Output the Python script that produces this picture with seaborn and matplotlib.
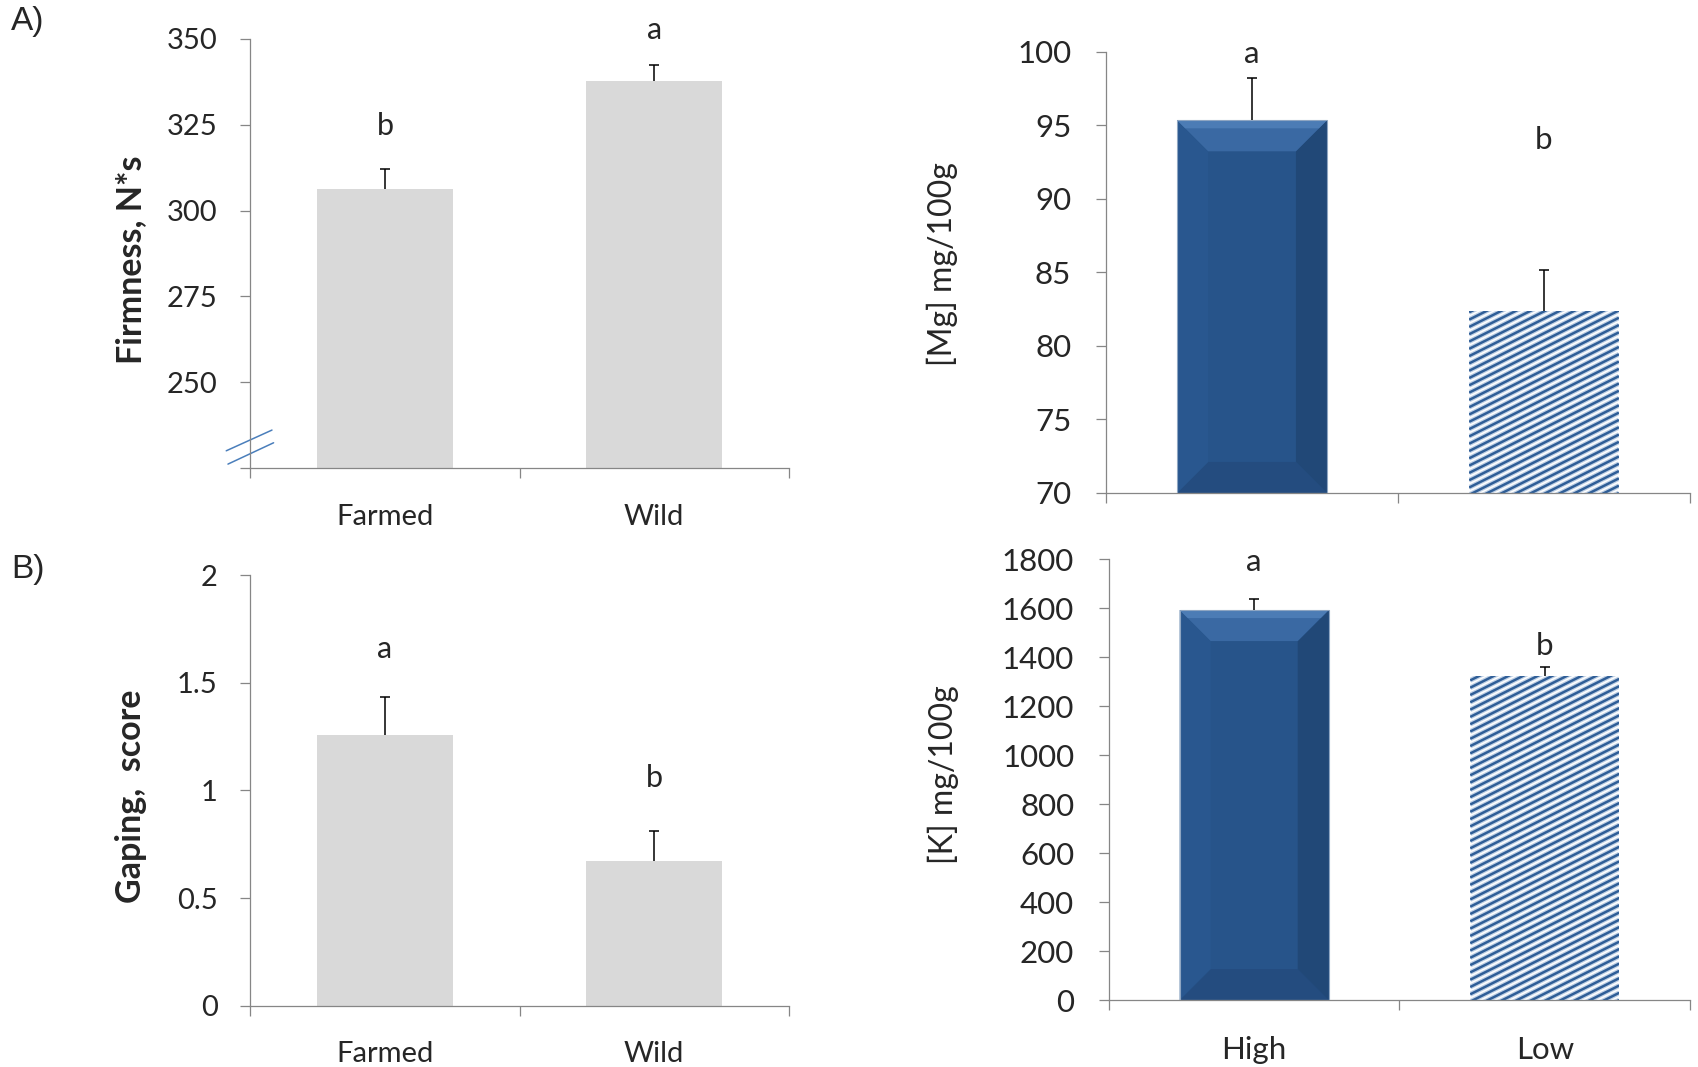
import numpy as np
import matplotlib
matplotlib.use('Agg')
import matplotlib.pyplot as plt
import seaborn as sns
from matplotlib.patches import Polygon
from matplotlib.collections import LineCollection
from matplotlib.transforms import IdentityTransform, Bbox

sns.set_theme(style='ticks')
plt.rcParams['font.family'] = ['Lato', 'DejaVu Sans']

# ---- data ----
species = ['Farmed', 'Wild']
firmness = [306.3, 337.7]
firmness_se = [5.7, 4.8]
firmness_letters = ['b', 'a']
firmness_letter_y = [324.5, 352.5]

gaping = [1.26, 0.67]
gaping_se = [0.175, 0.14]
gaping_letters = ['a', 'b']
gaping_letter_y = [1.66, 1.06]

feed = ['High', 'Low']
mg = [95.35, 82.35]
mg_se = [2.9, 2.85]
mg_letters = ['a', 'b']
mg_letter_y = [99.85, 94.0]

k = [1592, 1324]
k_se = [44, 37]
k_letters = ['a', 'b']
k_letter_y = [1789, 1445]

AXIS_GREY = '#868686'
BAR_GREY = '#d9d9d9'
BLUE = '#27548a'


def style_axes(ax, size, ypad):
    sns.despine(ax=ax)
    for s in ['left', 'bottom']:
        ax.spines[s].set_color(AXIS_GREY)
        ax.spines[s].set_linewidth(0.9)
    ax.set_xlim(-0.5, 1.5)
    ax.set_xticks([-0.5, 0.5, 1.5], minor=True)
    ax.tick_params(axis='x', which='major', length=0, pad=25.5, labelsize=size)
    ax.tick_params(axis='x', which='minor', length=7.5, width=0.9,
                   color=AXIS_GREY, direction='out')
    ax.tick_params(axis='y', length=7.5, width=0.9, color=AXIS_GREY,
                   direction='out', pad=ypad, labelsize=size)
    ax.set_xlabel('')


def add_errors(ax, vals, se):
    # one-sided (upper) error bars with a cap only at the top
    tops = np.array(vals) + np.array(se)
    ax.errorbar([0, 1], vals, yerr=[np.zeros(len(se)), se], fmt='none',
                ecolor='black', elinewidth=1.1, capsize=0, zorder=5)
    ax.plot([0, 1], tops, ls='none', marker='_', ms=7.5, mew=1.1,
            color='black', zorder=5)


def add_letters(ax, letters, ys, size):
    for i, (t, y) in enumerate(zip(letters, ys)):
        ax.text(i, y, t, ha='center', va='center', fontsize=size,
                clip_on=False)


def bar_box(ax, patch):
    bb = patch.get_window_extent()
    ab = ax.get_window_extent()
    return bb.x0, bb.x1, max(bb.y0, ab.y0), bb.y1


def bevel(ax, patch, d=31):
    x0, x1, y0, y1 = bar_box(ax, patch)
    faces = [
        ([(x0, y0), (x1, y0), (x1 - d, y0 + d), (x0 + d, y0 + d)], '#244c7f'),
        ([(x0, y0), (x0, y1), (x0 + d, y1 - d), (x0 + d, y0 + d)], '#29578f'),
        ([(x1, y0), (x1, y1), (x1 - d, y1 - d), (x1 - d, y0 + d)], '#214877'),
        ([(x0, y1), (x1, y1), (x1 - d, y1 - d), (x0 + d, y1 - d)], '#3a69a3'),
    ]
    for pts, c in faces:
        ax.add_patch(Polygon(pts, closed=True, facecolor=c, edgecolor='none',
                             transform=IdentityTransform(), zorder=2.5))
    # lighter strip along the top edge of the bevel
    ax.add_patch(Polygon([(x0, y1), (x1, y1), (x1 - 8, y1 - 8), (x0 + 8, y1 - 8)],
                         closed=True, facecolor='#4c7cb5', edgecolor='none',
                         transform=IdentityTransform(), zorder=2.55))
    ax.add_patch(Polygon([(x0, y0), (x0, y1), (x1, y1), (x1, y0)], closed=True,
                         facecolor='none', edgecolor='#8fa6c2', linewidth=0.8,
                         transform=IdentityTransform(), zorder=2.6))


def stripes(ax, patch, spacing=7.3, slope=0.5):
    x0, x1, y0, y1 = bar_box(ax, patch)
    w = x1 - x0
    segs = [[(x0, yy), (x1, yy + slope * w)]
            for yy in np.arange(y0 - slope * w - spacing, y1 + spacing, spacing)]
    for lw, c in [(3.6, '#c3d3e7'), (1.8, '#2f5e97')]:
        lc = LineCollection(segs, colors=c, linewidths=lw,
                            transform=IdentityTransform(), zorder=2.5)
        ax.add_collection(lc, autolim=False)
        # clip to the visible part of the bar (set after adding to the axes)
        lc.set_clip_path(None)
        lc.set_clip_box(Bbox.from_extents(x0, y0, x1, y1))


fig = plt.figure(figsize=(16.99, 10.67), dpi=100)
ax_tl = fig.add_axes([0.1473, 0.5613, 0.3170, 0.4022])
ax_bl = fig.add_axes([0.1473, 0.0576, 0.3170, 0.4031])
ax_tr = fig.add_axes([0.6510, 0.5380, 0.3437, 0.4133])
ax_br = fig.add_axes([0.6527, 0.0627, 0.3420, 0.4133])

# ---- A) firmness ----
sns.barplot(x=species, y=firmness, color=BAR_GREY, saturation=1, width=0.505,
            errorbar=None, linewidth=0, ax=ax_tl)
style_axes(ax_tl, 21, 16)
ax_tl.set_ylim(225, 350)
ax_tl.set_yticks([225, 250, 275, 300, 325, 350],
                 ['', '250', '275', '300', '325', '350'])
add_errors(ax_tl, firmness, firmness_se)
add_letters(ax_tl, firmness_letters, firmness_letter_y, 22)
ax_tl.set_ylabel('Firmness, N*s', fontsize=24.5, fontweight='bold', va='center')
ax_tl.yaxis.set_label_coords(-0.222, 0.485)
for xs, ys in [([-0.0446, 0.0403], [0.0403, 0.0886]),
               ([-0.0414, 0.0433], [0.0093, 0.0590])]:
    ax_tl.plot(xs, ys, color='#4a7ebb', lw=1.1, transform=ax_tl.transAxes,
               clip_on=False)

# ---- B) gaping ----
sns.barplot(x=species, y=gaping, color=BAR_GREY, saturation=1, width=0.505,
            errorbar=None, linewidth=0, ax=ax_bl)
style_axes(ax_bl, 21, 16)
ax_bl.set_ylim(0, 2)
ax_bl.set_yticks([0, 0.5, 1, 1.5, 2], ['0', '0.5', '1', '1.5', '2'])
add_errors(ax_bl, gaping, gaping_se)
add_letters(ax_bl, gaping_letters, gaping_letter_y, 22)
ax_bl.set_ylabel('Gaping,  score', fontsize=24.5, fontweight='bold', va='center')
ax_bl.yaxis.set_label_coords(-0.222, 0.487)

# ---- Mg ----
sns.barplot(x=feed, y=mg, hue=feed, palette=[BLUE, 'white'], legend=False,
            saturation=1, width=0.513, errorbar=None, linewidth=0, ax=ax_tr)
style_axes(ax_tr, 22.5, 17.5)
ax_tr.set_ylim(70, 100)
ax_tr.set_yticks(range(70, 101, 5))
ax_tr.tick_params(axis='x', which='major', labelbottom=False)
add_errors(ax_tr, mg, mg_se)
add_letters(ax_tr, mg_letters, mg_letter_y, 22.5)
ax_tr.set_ylabel('[Mg] mg/100g', fontsize=23, va='center')
ax_tr.yaxis.set_label_coords(-0.2796, 0.519)

# ---- K ----
sns.barplot(x=feed, y=k, hue=feed, palette=[BLUE, 'white'], legend=False,
            saturation=1, width=0.513, errorbar=None, linewidth=0, ax=ax_br)
style_axes(ax_br, 22.5, 17.5)
ax_br.set_ylim(0, 1800)
ax_br.set_yticks(range(0, 1801, 200))
add_errors(ax_br, k, k_se)
add_letters(ax_br, k_letters, k_letter_y, 22.5)
ax_br.set_ylabel('[K] mg/100g', fontsize=23, va='center')
ax_br.yaxis.set_label_coords(-0.285, 0.511)

for ax in [ax_tr, ax_br]:
    ax.set_xlim(-0.5, 1.5)
    bars = ax.patches[:2]
    bevel(ax, bars[0])
    stripes(ax, bars[1])

fig.text(0.0065, 0.980, 'A)', fontsize=24, family='Liberation Sans',
         va='center', ha='left')
fig.text(0.0065, 0.4667, 'B)', fontsize=24, family='Liberation Sans',
         va='center', ha='left')

fig.savefig('out.png', dpi=100, facecolor='white')
